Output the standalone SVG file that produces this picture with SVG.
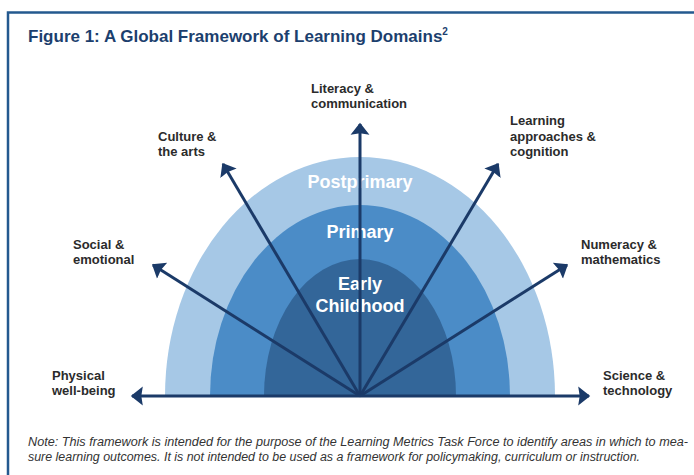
<svg xmlns="http://www.w3.org/2000/svg" width="694" height="475" viewBox="0 0 694 475">
  <style>
    .frame { fill: none; stroke: #24598f; stroke-width: 2.5; }
    .title { font-family: "Liberation Sans", Arial, sans-serif; font-weight: bold; font-size: 17px; fill: #1c3f6e; }
    .label { font-family: "Liberation Sans", Arial, sans-serif; font-weight: bold; font-size: 13px; fill: #2b2b2b; }
    .band { font-family: "Liberation Sans", Arial, sans-serif; font-weight: bold; font-size: 18px; fill: #ffffff; text-anchor: middle; }
    .note { font-family: "Liberation Sans", Arial, sans-serif; font-style: italic; font-size: 12.3px; fill: #333333; }
    .arrow { stroke: #1b3a68; stroke-width: 3; fill: none; marker-end: url(#head); }
  </style>
  <defs>
    <marker id="head" markerWidth="6" markerHeight="8" refX="3.6" refY="4" orient="auto" markerUnits="strokeWidth" viewBox="0 0 6 8">
      <path d="M0,0.85 L4,4 L0,7.15 L0.5,4 Z" fill="#1b3a68"/>
    </marker>
  </defs>

  <rect width="694" height="475" fill="#ffffff"/>

  <!-- frame: top rule and left rule -->
  <path class="frame" d="M8,475 L8,12.5 L694,12.5"/>

  <text class="title" x="28" y="42">Figure 1: A Global Framework of Learning Domains<tspan font-size="10px" dy="-7">2</tspan></text>

  <!-- nested semi-ellipses for the three stages -->
  <g id="postprimary">
    <path d="M165,396 A195,239 0 0 1 555,396 Z" fill="#a6c8e6"/>
    <text class="band" x="360" y="188">Postprimary</text>
  </g>
  <g id="primary">
    <path d="M210,396 A150,191 0 0 1 510,396 Z" fill="#4b8cc7"/>
    <text class="band" x="360" y="238">Primary</text>
  </g>
  <g id="early-childhood">
    <path d="M264,396 A96,137 0 0 1 456,396 Z" fill="#336699"/>
    <text class="band" x="360" y="290">Early</text>
    <text class="band" x="360" y="312">Childhood</text>
  </g>

  <!-- domain arrows radiating from the base -->
  <g id="connectors">
    <line class="arrow" x1="360" y1="396" x2="360" y2="124"/>
    <line class="arrow" x1="360" y1="396" x2="223" y2="164"/>
    <line class="arrow" x1="360" y1="396" x2="498" y2="164"/>
    <line class="arrow" x1="360" y1="396" x2="153" y2="265"/>
    <line class="arrow" x1="360" y1="396" x2="567" y2="265"/>
    <line class="arrow" x1="360" y1="396" x2="132" y2="396"/>
    <line class="arrow" x1="360" y1="396" x2="589" y2="396"/>
  </g>

  <g id="literacy">
    <text class="label" x="311" y="93">Literacy &amp;</text>
    <text class="label" x="311" y="108">communication</text>
  </g>
  <g id="culture">
    <text class="label" x="158" y="141">Culture &amp;</text>
    <text class="label" x="158" y="156">the arts</text>
  </g>
  <g id="learning-approaches">
    <text class="label" x="510" y="125">Learning</text>
    <text class="label" x="510" y="141">approaches &amp;</text>
    <text class="label" x="510" y="156">cognition</text>
  </g>
  <g id="social">
    <text class="label" x="73" y="249">Social &amp;</text>
    <text class="label" x="73" y="264">emotional</text>
  </g>
  <g id="numeracy">
    <text class="label" x="581" y="249">Numeracy &amp;</text>
    <text class="label" x="581" y="264">mathematics</text>
  </g>
  <g id="physical">
    <text class="label" x="52" y="380">Physical</text>
    <text class="label" x="52" y="395">well-being</text>
  </g>
  <g id="science">
    <text class="label" x="603" y="380">Science &amp;</text>
    <text class="label" x="603" y="395">technology</text>
  </g>

  <text class="note" x="28" y="446" textLength="660" lengthAdjust="spacingAndGlyphs">Note: This framework is intended for the purpose of the Learning Metrics Task Force to identify areas in which to mea-</text>
  <text class="note" x="28" y="461" textLength="612" lengthAdjust="spacingAndGlyphs">sure learning outcomes. It is not intended to be used as a framework for policymaking, curriculum or instruction.</text>
</svg>
